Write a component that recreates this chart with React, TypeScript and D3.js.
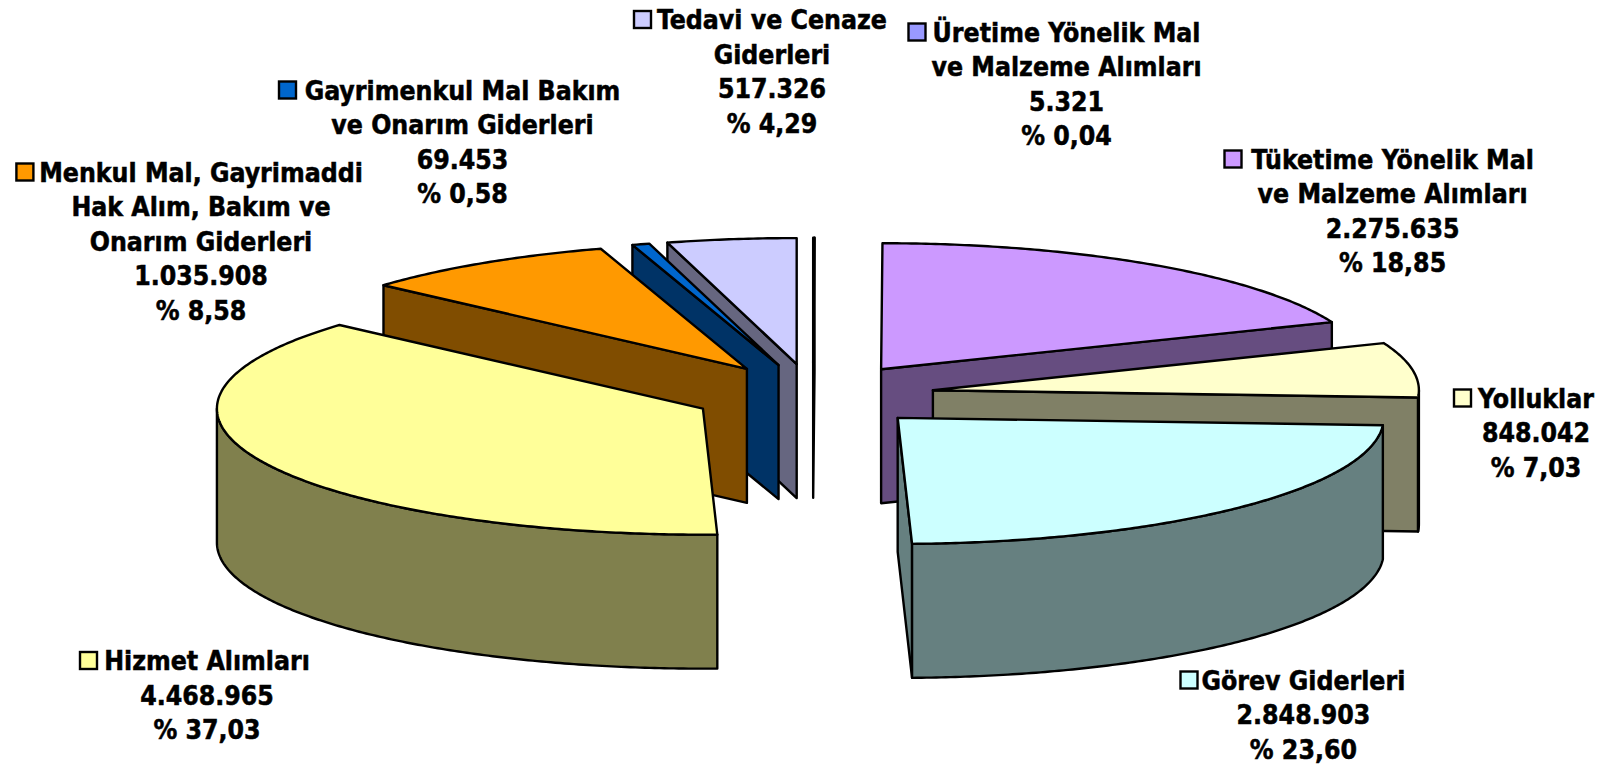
import React from 'react';
import * as d3 from 'd3';

// values as printed on the chart, clockwise from 12 o'clock
const categories = [
  ['Üretime Yönelik Mal', 've Malzeme Alımları'],
  ['Tüketime Yönelik Mal', 've Malzeme Alımları'],
  ['Yolluklar'],
  ['Görev Giderleri'],
  ['Hizmet Alımları'],
  ['Menkul Mal, Gayrimaddi', 'Hak Alım, Bakım ve', 'Onarım Giderleri'],
  ['Gayrimenkul Mal Bakım', 've Onarım Giderleri'],
  ['Tedavi ve Cenaze', 'Giderleri'],
];
const amounts = [5321, 2275635, 848042, 2848903, 4468965, 1035908, 69453, 517326];
const percents = [0.04, 18.85, 7.03, 23.6, 37.03, 8.58, 0.58, 4.29];
const colors = ['#9999FF', '#CC99FF', '#FFFFCC', '#CCFFFF', '#FFFF99', '#FF9900', '#0066CC', '#CCCCFF'];

// label placement: text centre, first line centre, legend key left
const labelLayout = [
  { cx: 1066.5, y0: 32, keyX: 908.5 },
  { cx: 1392.6, y0: 159, keyX: 1224.5 },
  { cx: 1536, y0: 398, keyX: 1454 },
  { cx: 1303.4, y0: 680, keyX: 1180.5 },
  { cx: 207, y0: 660.5, keyX: 80 },
  { cx: 201, y0: 172, keyX: 16.4 },
  { cx: 462.5, y0: 90, keyX: 279 },
  { cx: 772, y0: 19.5, keyX: 634 },
];

const width = 1608;
const height = 765;
const cx = 813;
const cy = 395.3;
const rx = 486;
const ry = 126;
const depth = 134;
const explode = 0.25;
const lineStep = 34.5;
const keySize = 17;

const nl = d3.formatLocale({ decimal: ',', thousands: '.', grouping: [3], currency: ['', ''] });
const fmtAmount = nl.format(',d');
const fmtPct = nl.format('.2f');

const pie = d3.pie<number>().sort(null).value((d) => d);
const line = d3.line();

type Pt = [number, number];

const arcPoints = (a0: number, a1: number, ox: number, oy: number, dz = 0): Pt[] => {
  const n = Math.max(1, Math.ceil((a1 - a0) / 0.01));
  return d3.range(n + 1).map((i) => {
    const a = a0 + ((a1 - a0) * i) / n;
    return [ox + rx * Math.sin(a), oy - ry * Math.cos(a) + dz] as Pt;
  });
};

const sideColor = (c: string) => {
  const r = d3.rgb(c);
  return d3.rgb(r.r / 2, r.g / 2, r.b / 2).formatHex();
};

const slices = pie(amounts).map((d, i) => {
  const mid = (d.startAngle + d.endAngle) / 2;
  return {
    i,
    a0: d.startAngle,
    a1: d.endAngle,
    mid,
    ox: cx + explode * rx * Math.sin(mid),
    oy: cy - explode * ry * Math.cos(mid),
  };
});

// painter's order: back to front
const ordered = [...slices].sort((a, b) => d3.descending(Math.cos(a.mid), Math.cos(b.mid)));

const radialWall = (a: number, ox: number, oy: number): Pt[] => {
  const p: Pt = [ox + rx * Math.sin(a), oy - ry * Math.cos(a)];
  return [[ox, oy], p, [p[0], p[1] + depth], [ox, oy + depth]];
};

const Slice: React.FC<{ s: (typeof slices)[number] }> = ({ s }) => {
  const fill = colors[s.i];
  const side = sideColor(fill);
  const common = { stroke: '#000', strokeWidth: 2.4, strokeLinejoin: 'round' as const };
  // outer wall is only seen on the front half of the ellipse
  const f0 = Math.max(s.a0, Math.PI / 2);
  const f1 = Math.min(s.a1, (3 * Math.PI) / 2);
  const top = arcPoints(s.a0, s.a1, s.ox, s.oy);
  return (
    <g>
      {Math.sin(s.a0) < 0 && <path d={line(radialWall(s.a0, s.ox, s.oy)) + 'Z'} fill={side} {...common} />}
      {Math.sin(s.a1) > 0 && <path d={line(radialWall(s.a1, s.ox, s.oy)) + 'Z'} fill={side} {...common} />}
      {f1 > f0 && (
        <path
          d={line([...arcPoints(f0, f1, s.ox, s.oy), ...arcPoints(f0, f1, s.ox, s.oy, depth).reverse()]) + 'Z'}
          fill={side}
          {...common}
        />
      )}
      <path d={line([[s.ox, s.oy], ...top]) + 'Z'} fill={fill} {...common} />
    </g>
  );
};

const Label: React.FC<{ i: number }> = ({ i }) => {
  const { cx: tx, y0, keyX } = labelLayout[i];
  const lines = [...categories[i], fmtAmount(amounts[i]), `% ${fmtPct(percents[i])}`];
  return (
    <g>
      <rect
        x={keyX}
        y={y0 - keySize / 2}
        width={keySize}
        height={keySize}
        fill={colors[i]}
        stroke="#000"
        strokeWidth={2.4}
      />
      {lines.map((t, k) => (
        <text key={k} x={tx} y={y0 + k * lineStep + 9.5} textAnchor="middle" stroke="#000" strokeWidth={0.5}>
          {t}
        </text>
      ))}
    </g>
  );
};

export default function App() {
  return (
    <svg
      width={width}
      height={height}
      style={{
        position: 'absolute',
        left: 0,
        top: 0,
        background: '#fff',
        fontFamily: '"DejaVu Sans", sans-serif',
        fontStretch: 'condensed',
        fontWeight: 700,
        fontSize: 26.4,
      }}
    >
      {ordered.map((s) => (
        <Slice key={s.i} s={s} />
      ))}
      {slices.map((s) => (
        <Label key={s.i} i={s.i} />
      ))}
    </svg>
  );
}
